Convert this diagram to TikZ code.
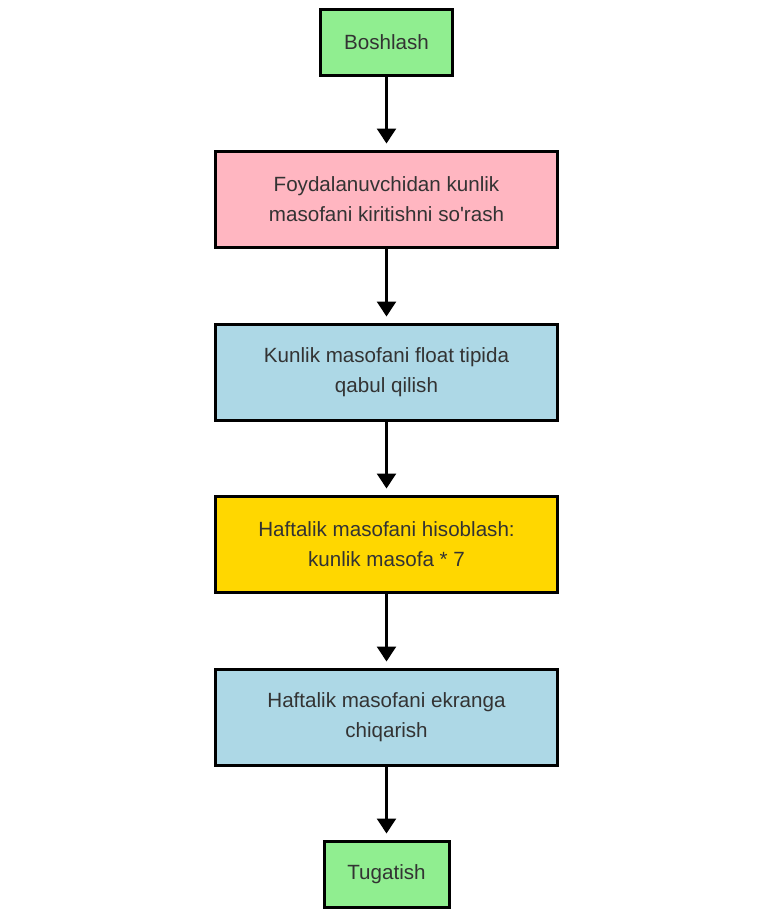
\documentclass[tikz,border=0pt]{standalone}
\usepackage{fontspec}
\setmainfont{Liberation Sans}
\usetikzlibrary{arrows.meta,shadows}
\definecolor{txt}{HTML}{333333}
\definecolor{lgreen}{HTML}{90EE90}
\definecolor{lpink}{HTML}{FFB6C1}
\definecolor{lblue}{HTML}{ADD8E6}
\definecolor{lgold}{HTML}{FFD700}
\tikzset{
  box/.style={draw=black, line width=3pt, inner sep=0pt, align=center,
    text=txt, font=\fontsize{20.6}{30}\selectfont,
    drop shadow={shadow xshift=1.5pt, shadow yshift=-1.5pt, fill=black, opacity=0.15}},
  wide/.style={box, minimum width=342pt, minimum height=96pt},
  term/.style={box, fill=lgreen, minimum height=66pt},
  conn/.style={line width=2.5pt, -{Triangle[width=19pt,length=15pt]}, shorten >=6pt}
}
\begin{document}
\begin{tikzpicture}[x=1pt,y=-1pt]
\useasboundingbox (0,0) rectangle (780,914);
\node[term, minimum width=132pt] (start) at (386.5,42.5) {Boshlash};
\node[wide, fill=lpink] (ask) at (386.5,199) {Foydalanuvchidan kunlik\\masofani kiritishni so\textquotesingle rash};
\node[wide, fill=lblue] (read) at (386.5,372) {Kunlik masofani float tipida\\qabul qilish};
\node[wide, fill=lgold] (calc) at (386.5,544) {Haftalik masofani hisoblash:\\kunlik masofa * 7};
\node[wide, fill=lblue] (out) at (386.5,717) {Haftalik masofani ekranga\\chiqarish};
\node[term, minimum width=125pt] (end) at (386.5,874) {Tugatish};
\draw[conn] (start) -- (ask);
\draw[conn] (ask) -- (read);
\draw[conn] (read) -- (calc);
\draw[conn] (calc) -- (out);
\draw[conn] (out) -- (end);
\end{tikzpicture}
\end{document}
